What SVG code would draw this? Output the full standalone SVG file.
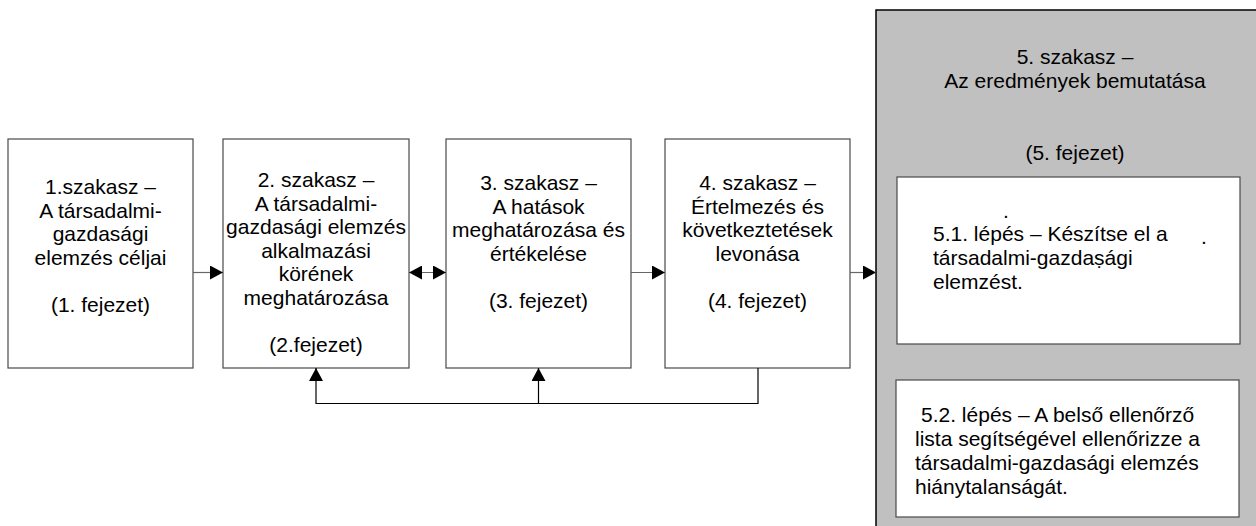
<svg xmlns="http://www.w3.org/2000/svg" width="1256" height="526" viewBox="0 0 1256 526">
  <style>
    .box { fill: #ffffff; stroke: #4a4a4a; stroke-width: 1.2; }
    .outer { fill: #c0c0c0; stroke: #000000; stroke-width: 1.5; }
    .t { font-family: "Liberation Sans", Arial, sans-serif; font-size: 21px; fill: #000000; }
    .c { text-anchor: middle; }
    .link { fill: none; stroke: #666666; stroke-width: 1.2; }
    .loop { fill: none; stroke: #000000; stroke-width: 1.2; }
  </style>
  <defs>
    <marker id="head" markerWidth="13" markerHeight="14" refX="13" refY="7" orient="auto" markerUnits="userSpaceOnUse">
      <path d="M0,0 L13,7 L0,14 Z" fill="#000000"/>
    </marker>
    <marker id="tail" markerWidth="13" markerHeight="14" refX="0" refY="7" orient="auto" markerUnits="userSpaceOnUse">
      <path d="M13,0 L0,7 L13,14 Z" fill="#000000"/>
    </marker>
  </defs>

  <rect width="1256" height="526" fill="#ffffff"/>

  <!-- stage 5 container -->
  <g id="stage5">
    <rect class="outer" x="876" y="10" width="400" height="530"/>
    <text class="t c" x="1075" y="64">5. szakasz –</text>
    <text class="t c" x="1075" y="88">Az eredmények bemutatása</text>
    <text class="t c" x="1075" y="160">(5. fejezet)</text>
  </g>

  <g id="step51">
    <rect class="box" x="897" y="177" width="343" height="167"/>
    <text class="t" x="1003" y="218">.</text>
    <text class="t" x="1201" y="244">.</text>
    <text class="t" x="933" y="241">5.1. lépés – Készítse el a</text>
    <text class="t" x="933" y="265">társadalmi-gazdaṣági</text>
    <text class="t" x="933" y="289">elemzést.</text>
  </g>

  <g id="step52">
    <rect class="box" x="896" y="380" width="343" height="137"/>
    <text class="t" x="921" y="422">5.2. lépés – A belső ellenőrző</text>
    <text class="t" x="915" y="446">lista segítségével ellenőrizze a</text>
    <text class="t" x="915" y="470">társadalmi-gazdasági elemzés</text>
    <text class="t" x="915" y="494">hiánytalanságát.</text>
  </g>

  <g id="stage1">
    <rect class="box" x="8" y="139" width="185" height="229"/>
    <text class="t c" x="100.5" y="194">1.szakasz –</text>
    <text class="t c" x="100.5" y="217.5">A társadalmi-</text>
    <text class="t c" x="100.5" y="241">gazdasági</text>
    <text class="t c" x="100.5" y="264.5">elemzés céljai</text>
    <text class="t c" x="100.5" y="311.5">(1. fejezet)</text>
  </g>

  <g id="stage2">
    <rect class="box" x="223" y="139" width="186" height="229"/>
    <text class="t c" x="316" y="187">2. szakasz –</text>
    <text class="t c" x="316" y="210.5">A társadalmi-</text>
    <text class="t c" x="316" y="234">gazdasági elemzés</text>
    <text class="t c" x="316" y="257.5">alkalmazási</text>
    <text class="t c" x="316" y="281">körének</text>
    <text class="t c" x="316" y="304.5">meghatározása</text>
    <text class="t c" x="316" y="351.5">(2.fejezet)</text>
  </g>

  <g id="stage3">
    <rect class="box" x="446" y="139" width="185" height="229"/>
    <text class="t c" x="538.5" y="190">3. szakasz –</text>
    <text class="t c" x="538.5" y="213.5">A hatások</text>
    <text class="t c" x="538.5" y="237">meghatározása és</text>
    <text class="t c" x="538.5" y="260.5">értékelése</text>
    <text class="t c" x="538.5" y="307.5">(3. fejezet)</text>
  </g>

  <g id="stage4">
    <rect class="box" x="665" y="139" width="185" height="229"/>
    <text class="t c" x="757.5" y="190">4. szakasz –</text>
    <text class="t c" x="757.5" y="213.5">Értelmezés és</text>
    <text class="t c" x="757.5" y="237">következtetések</text>
    <text class="t c" x="757.5" y="260.5">levonása</text>
    <text class="t c" x="757.5" y="307.5">(4. fejezet)</text>
  </g>

  <!-- connectors -->
  <g id="connectors">
    <line class="link" x1="193" y1="272.5" x2="223" y2="272.5" marker-end="url(#head)"/>
    <line class="link" x1="409" y1="272.5" x2="446" y2="272.5" marker-start="url(#tail)" marker-end="url(#head)"/>
    <line class="link" x1="631" y1="272.5" x2="665" y2="272.5" marker-end="url(#head)"/>
    <line class="link" x1="850" y1="272.5" x2="876" y2="272.5" marker-end="url(#head)"/>
    <polyline class="loop" points="758,368 758,403.5 316,403.5 316,368" marker-end="url(#head)"/>
    <line class="loop" x1="538.5" y1="403.5" x2="538.5" y2="368" marker-end="url(#head)"/>
  </g>
</svg>
